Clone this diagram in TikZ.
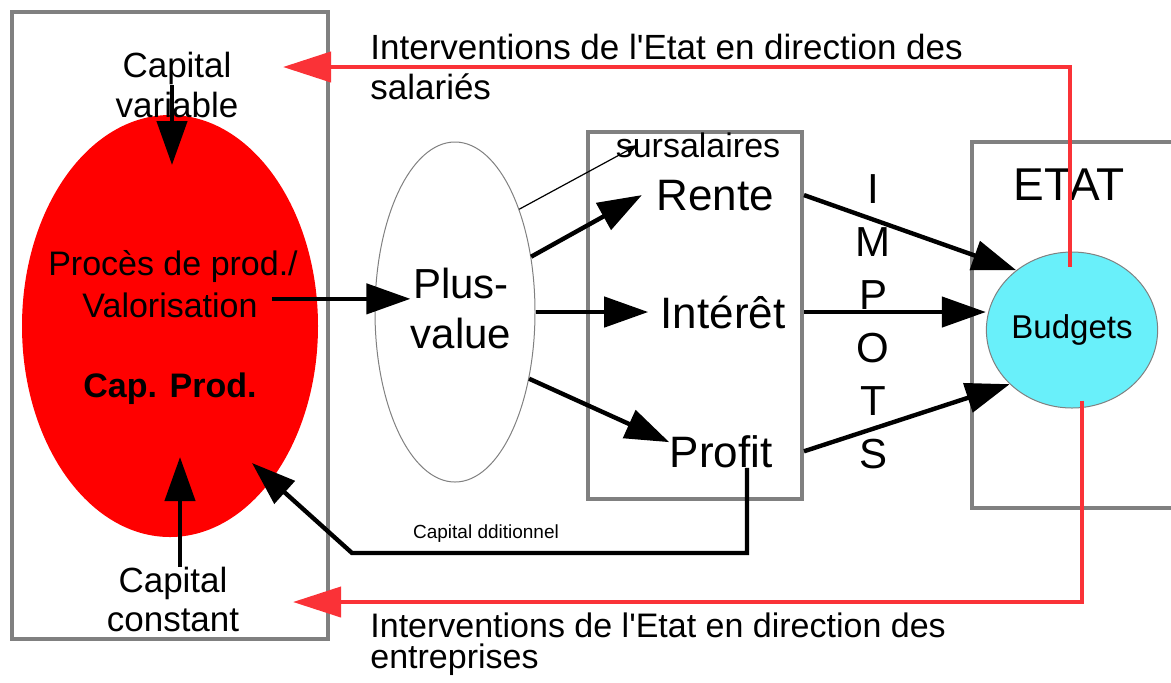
\documentclass[tikz,border=0pt]{standalone}
\usepackage{fontspec}
\setmainfont{Liberation Sans}
\usetikzlibrary{arrows.meta,shapes.geometric}

\definecolor{cadregris}{RGB}{128,128,128}
\definecolor{rougeetat}{RGB}{250,50,55}
\definecolor{cielbudget}{RGB}{105,240,250}

\begin{document}
\begin{tikzpicture}[x=0.5pt,y=-0.5pt,
  cadre/.style={draw=cadregris,line width=2pt},
  fleche/.style={line width=2.2pt,-{Triangle[length=22pt,width=15pt]}},
  fine/.style={line width=0.6pt,-{Triangle[length=6pt,width=4pt]}},
  intervention/.style={draw=rougeetat,line width=2pt,-{Triangle[length=24pt,width=15pt]}},
  txt/.style={inner sep=0pt,font=\fontsize{17.5}{20}\selectfont},
  gros/.style={inner sep=0pt,font=\fontsize{22}{26}\selectfont}]
  \useasboundingbox (0,0) rectangle (1171,682);
  % cadres
  \draw[cadre] (12,12) rectangle (328,639);
  \node[cadre,minimum width=107pt,minimum height=183.5pt] (revenus) at (695,315.5) {};
  \draw[cadre] (1171,142) -- (972,142) -- (972,508) -- (1171,508);
  % capital productif
  \node[ellipse,fill=red,inner sep=0pt,minimum width=148pt,minimum height=211pt] (capprod) at (170,326) {};
  \node[txt,anchor=north,align=center] (capvar) at (177,52) {Capital\\variable};
  \node[txt,anchor=north,align=center,font=\fontsize{17.5}{19.5}\selectfont] (capcst) at (173,567) {Capital\\constant};
  \node[txt,anchor=base,font=\fontsize{17}{20}\selectfont] (proces) at (173,275) {Procès de prod./};
  \node[txt,anchor=base,font=\fontsize{17}{20}\selectfont] (valo) at (170,317) {Valorisation};
  \node[txt,anchor=base,font=\fontsize{17}{20}\bfseries] (cap) at (170,397) {Cap. Prod.};
  \coordinate (varin) at (172,165);
  \coordinate (cstin) at (180,457);
  \draw[fleche] (172,85) -- (varin);
  \draw[fleche] (capcst.north -| cstin) -- (cstin);
  % plus-value
  \node[ellipse,draw=cadregris,line width=0.5pt,inner sep=0pt,minimum width=80pt,minimum height=170pt] (pv) at (455,312) {};
  \node[anchor=north,align=center,inner sep=0pt,font=\fontsize{21}{25}\selectfont] (plus) at (461,268) {Plus-\\value};
  \draw[fleche] ([xshift=7pt,yshift=3pt]valo.east) -- ([yshift=3pt]valo.east -| plus.west);
  % revenus
  \node[txt,anchor=base,font=\fontsize{17}{20}\selectfont] (sursal) at (698,157) {sursalaires};
  \node[gros,anchor=base] (rente) at (715,210) {Rente};
  \node[gros,anchor=base] (interet) at (723,328) {Intérêt};
  \node[gros,anchor=base] (profit) at (721,467) {Profit};
  \draw[fine] (pv.58) -- ([xshift=-30pt]sursal.center);
  \draw[fleche] (pv.36) -- ([xshift=-7pt]rente.west);
  \draw[fleche] (pv.east |- interet.west) -- ([xshift=-6pt]interet.west);
  \draw[fleche] (pv.-42) -- (profit.170);
  % etat
  \node[gros,anchor=base,font=\fontsize{23}{26}\selectfont] (etat) at (1069,200) {ETAT};
  \node[ellipse,draw=cadregris,line width=0.5pt,fill=cielbudget,inner sep=0pt,minimum width=84.5pt,minimum height=78pt,font=\fontsize{16.5}{20}\selectfont] (bud) at (1072,330) {Budgets};
  \node[anchor=north,align=center,inner sep=0pt,font=\fontsize{21}{26.5}\selectfont] (impots) at (873,174) {I\\M\\P\\O\\T\\S};
  \draw[fleche] (rente.east -| revenus.east) -- (bud.133);
  \draw[fleche] (interet.west -| revenus.east) -- (interet.west -| bud.west);
  \draw[fleche] (profit.east -| revenus.east) -- (bud.-139);
  % capital additionnel
  \coordinate (coude) at (747,553);
  \coordinate (addin) at (252,463);
  \draw[fleche] (profit.south -| coude) -- (coude) -- (352,553) -- (addin);
  \node[inner sep=0pt,anchor=base,font=\fontsize{9.5}{11}\selectfont] (capadd) at (486,538) {Capital dditionnel};
  % interventions de l'Etat
  \coordinate (salin) at (283,67);
  \coordinate (entin) at (293,602);
  \draw[intervention] ([xshift=-1pt,yshift=-7.5pt]bud.north) |- (salin);
  \draw[intervention] ([xshift=5pt,yshift=4pt]bud.south) |- (entin);
  \node[txt,anchor=north west,align=left] (salaries) at (370,34) {Interventions de l\textquotesingle Etat en direction des\\salariés};
  \node[txt,anchor=north west,align=left,font=\fontsize{17}{15.5}\selectfont] (entreprises) at (370,612) {Interventions de l\textquotesingle Etat en direction des\\entreprises};
\end{tikzpicture}
\end{document}
